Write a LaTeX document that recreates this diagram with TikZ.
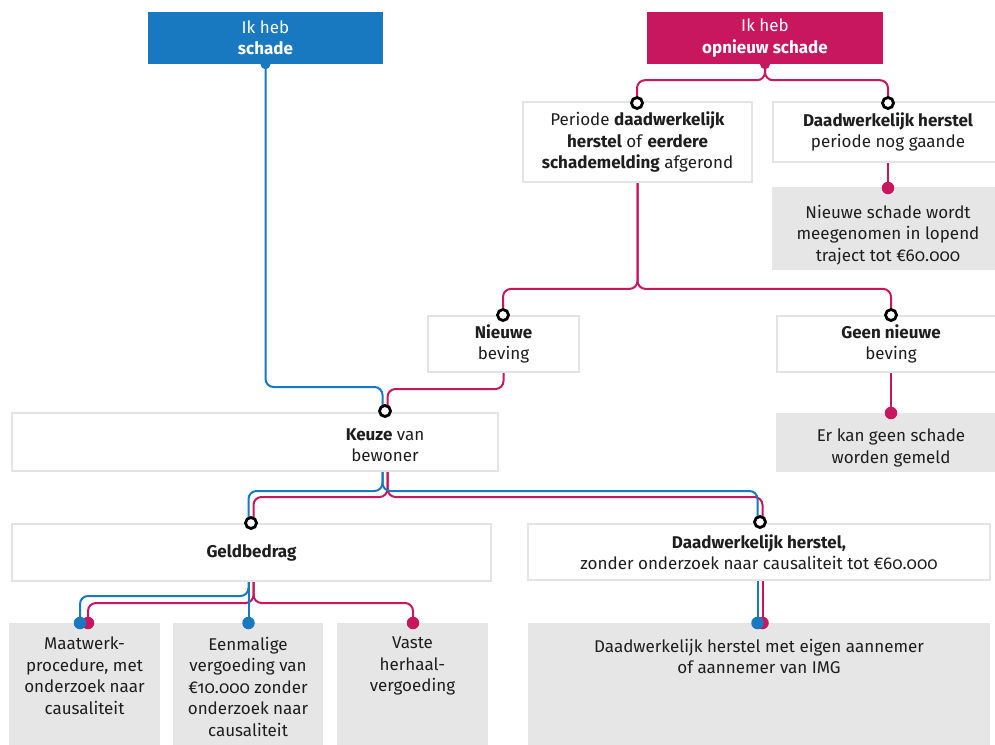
\documentclass[tikz,border=0pt]{standalone}
\usepackage{fontspec}
\setmainfont{Fira Sans}[Numbers=OldStyle]
\usetikzlibrary{calc}
\definecolor{myblue}{HTML}{1878C0}
\definecolor{mymag}{HTML}{C8175E}
\definecolor{graybox}{HTML}{E6E6E6}
\definecolor{boxline}{HTML}{E4E4E4}
\definecolor{txtcol}{HTML}{1E1E1E}
\pgfdeclarelayer{back}
\pgfdeclarelayer{bg}
\pgfsetlayers{back,bg,main}
\newcommand\dtxt{\fontsize{17}{21.5}\selectfont}
\begin{document}
\begin{tikzpicture}[x=1pt,y=-1pt,
  wbox/.style={draw=boxline, line width=1.8pt, fill=white, inner sep=0pt, align=center, font=\dtxt, text=txtcol},
  gbox/.style={fill=graybox, inner sep=0pt},
  tbox/.style={inner sep=0pt, align=center, font=\dtxt, text=txtcol},
  hbox/.style={inner sep=0pt, align=center, font=\dtxt, text=white},
  ring/.style={circle, draw=black, line width=2.8pt, fill=white, minimum size=11pt, inner sep=0pt},
  bdot/.style={circle, fill=myblue, minimum size=12.5pt, inner sep=0pt},
  mdot/.style={circle, fill=mymag, minimum size=12.5pt, inner sep=0pt},
  bline/.style={draw=myblue, line width=2pt, rounded corners=8pt},
  mline/.style={draw=mymag, line width=2pt, rounded corners=8pt}]
\useasboundingbox (0,0) rectangle (995,744);
\clip (0,0) rectangle (995,744);
\begin{pgfonlayer}{back}
\fill[white] (0,0) rectangle (995,744);
\end{pgfonlayer}

% headers
\node[hbox, fill=myblue, minimum width=235pt, minimum height=52pt] (hb) at (265.5,38) {Ik heb\\\textbf{schade}};
\node[hbox, fill=mymag, minimum width=236pt, minimum height=52pt] (hm) at (765,38) {Ik heb\\\textbf{opnieuw schade}};
\node[bdot, minimum size=10pt] (hbd) at (hb.south) {};
\node[mdot, minimum size=10pt] (hmd) at (hm.south) {};

% white boxes
\node[wbox, minimum width=229pt, minimum height=80pt] (per) at (637.5,142) {Periode \textbf{daadwerkelijk}\\\textbf{herstel} of \textbf{eerdere}\\\textbf{schademelding} afgerond};
\node[wbox, minimum width=230pt, minimum height=60pt] (dhg) at (888,132) {\textbf{Daadwerkelijk herstel}\\periode nog gaande};
\node[wbox, minimum width=151pt, minimum height=56pt] (nb) at (503.5,344) {\textbf{Nieuwe}\\beving};
\node[wbox, minimum width=228pt, minimum height=56pt] (gnb) at (891,344) {\textbf{Geen nieuwe}\\beving};
\node[wbox, minimum width=486pt, minimum height=58pt] (keuze) at (255,442) {};
\node[tbox] (keuzet) at (385,445) {\textbf{Keuze} van\\bewoner};
\node[wbox, minimum width=479pt, minimum height=57pt] (geld) at (251.5,552.5) {\textbf{Geldbedrag}};
\node[wbox, minimum width=462pt, minimum height=56pt] (dh) at (759,552) {\textbf{Daadwerkelijk herstel,}\\zonder onderzoek naar causaliteit tot €60.000};

% grey boxes
\node[gbox, minimum width=232pt, minimum height=83pt, anchor=north] (nsw) at (888,187) {};
\node[tbox, anchor=north] (nswt) at (888,205) {Nieuwe schade wordt\\meegenomen in lopend\\traject tot €60.000};
\node[gbox, minimum width=230pt, minimum height=59pt, anchor=north] (erk) at (891,413) {};
\node[tbox, anchor=north] (erkt) at (891,429) {Er kan geen schade\\worden gemeld};
\node[gbox, minimum width=151pt, minimum height=130pt, anchor=north] (g1) at (84.5,623) {};
\node[tbox, anchor=north] (g1t) at (84.5,637) {Maatwerk-\\procedure, met\\onderzoek naar\\causaliteit};
\node[gbox, minimum width=150pt, minimum height=130pt, anchor=north] (g2) at (248,623) {};
\node[tbox, anchor=north] (g2t) at (248,637) {Eenmalige\\vergoeding van\\€10.000 zonder\\onderzoek naar\\causaliteit};
\node[gbox, minimum width=151pt, minimum height=130pt, anchor=north] (g3) at (412.5,623) {};
\node[tbox, anchor=north] (g3t) at (412.5,637) {Vaste\\herhaal-\\vergoeding};
\node[gbox, minimum width=462pt, minimum height=130pt, anchor=north] (g4) at (759,623) {};
\node[tbox, anchor=north] (g4t) at (759,639) {Daadwerkelijk herstel met eigen aannemer\\of aannemer van IMG};

% rings
\node[ring] (r1) at (637,103) {};
\node[ring] (r2) at (888,103) {};
\node[ring] (r3) at (503,315) {};
\node[ring] (r4) at (891,315) {};
\node[ring] (rk) at (385,411) {};
\node[ring] (rg) at (251,523) {};
\node[ring] (rd) at (760,522) {};

% dots
\node[mdot] (d1) at (888,188) {};
\node[mdot] (d2) at (891,413) {};
\node[mdot] (g1m) at (88,623) {};
\node[bdot] (g1b) at (80,623) {};
\node[bdot] (g2b) at (248.5,623) {};
\node[mdot] (g3m) at (413,623) {};
\node[mdot] (h1m) at (762.5,623) {};
\node[bdot] (h1b) at (757.5,623) {};

% helper points
\coordinate (rkb) at ([xshift=-2.5pt]rk.center);
\coordinate (rkm) at ([xshift=2.5pt]rk.center);
\coordinate (rgbc) at ([xshift=-2.5pt]rg.center);
\coordinate (rgmc) at ([xshift=2.5pt]rg.center);
\coordinate (rdbc) at ([xshift=-2.5pt]rd.center);
\coordinate (rdmc) at ([xshift=2.5pt]rd.center);
\coordinate (kb) at (rkb |- keuze.south);
\coordinate (km) at (rkm |- keuze.south);
\coordinate (gb) at (rgbc |- geld.south);
\coordinate (gm) at (rgmc |- geld.south);

\begin{pgfonlayer}{bg}
\draw[bline] (hbd.center) |- ([yshift=24pt]rkb) -- (rkb);
\draw[mline] (nb.south) |- ([yshift=22pt]rkm) -- (rkm);
\draw[mline] (hmd.center) -- ++(0,-16pt) -| (r1.center);
\draw[mline] (hmd.center) -- ++(0,-16pt) -| (r2.center);
\draw[mline] (per.south) -- ++(0,-106pt) -| (r3.center);
\draw[mline] (per.south) -- ++(0,-106pt) -| (r4.center);
\draw[mline] (dhg.south) -- (d1.center);
\draw[mline] (gnb.south) -- (d2.center);
\draw[mline] (km) |- ([yshift=26pt]rgmc) -- (rgmc);
\draw[mline] (km) |- ([yshift=25pt]rdmc) -- (rdmc);
\draw[bline] (kb) |- ([yshift=32pt]rgbc) -- (rgbc);
\draw[bline] (kb) |- ([yshift=31pt]rdbc) -- (rdbc);
\draw[mline] (gm) |- ([yshift=20pt]g1m.center) -- (g1m.center);
\draw[mline] (gm) |- ([yshift=20pt]g3m.center) -- (g3m.center);
\draw[bline] (gb) |- ([yshift=27pt]g1b.center) -- (g1b.center);
\draw[bline] (gb) -- (g2b.center);
\draw[mline] (rdmc |- dh.south) -- (h1m.center);
\draw[bline] (rdbc |- dh.south) -- (h1b.center);
\end{pgfonlayer}
\end{tikzpicture}
\end{document}
